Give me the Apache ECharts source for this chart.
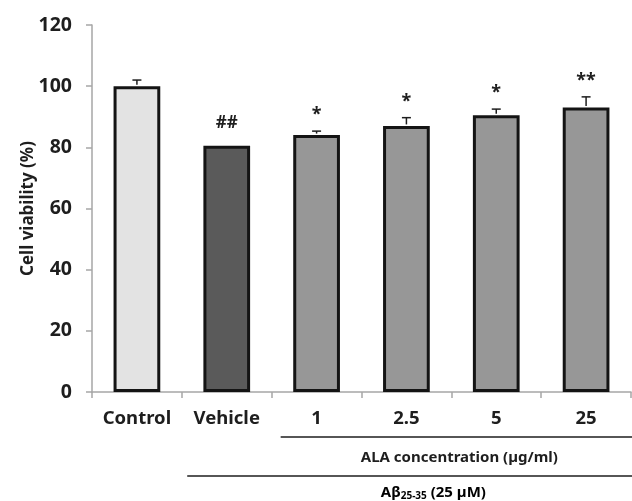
<!DOCTYPE html>
<html><head><meta charset="utf-8">
<script src="https://cdn.jsdelivr.net/npm/echarts@6/dist/echarts.min.js"></script>
<style>html,body{margin:0;padding:0;background:#fff}#c{width:632px;height:501px}</style>
</head><body><div id="c"></div>
<script>
const categories = ['Control', 'Vehicle', '1', '2.5', '5', '25'];
const viability = [100, 80.5, 84, 87, 90.5, 93];
const errors = [2, 0, 1.3, 2.7, 2, 3.5];
const marks = ['', '##', '*', '*', '*', '**'];
const barColors = ['#e3e3e3', '#5a5a5a', '#979797', '#979797', '#979797', '#979797'];
const yTicks = [0, 20, 40, 60, 80, 100, 120];
const FONT = '"Noto Sans", "Open Sans", sans-serif';

const chart = echarts.init(document.getElementById('c'), null, {renderer: 'canvas'});
const option = {
  animation: false,
  backgroundColor: '#fff',
  grid: {left: 92, right: 1, top: 25, bottom: 109, containLabel: false},
  xAxis: {
    type: 'category', data: categories,
    axisLine: {lineStyle: {color: '#a6a6a6', width: 1.5}},
    axisTick: {show: true, length: 6, lineStyle: {color: '#a6a6a6', width: 1.5}},
    axisLabel: {color: '#1e1e1e', fontFamily: FONT, fontWeight: 'bold', fontSize: 18.5, margin: 17}
  },
  yAxis: {
    type: 'value', min: yTicks[0], max: yTicks[yTicks.length - 1], interval: 20,
    name: 'Cell viability (%)', nameLocation: 'middle', nameGap: 55, nameRotate: 90,
    nameMoveOverlap: false,
    nameTextStyle: {color: '#1e1e1e', fontFamily: FONT, fontWeight: 'bold', fontSize: 17},
    axisLine: {show: true, lineStyle: {color: '#a6a6a6', width: 1.5}},
    axisTick: {show: true, length: 6, lineStyle: {color: '#a6a6a6', width: 1.5}},
    splitLine: {show: false},
    axisLabel: {color: '#1e1e1e', fontFamily: FONT, fontWeight: 'bold', fontSize: 19.5, margin: 20}
  },
  series: [
    {
      type: 'bar', barWidth: '52%',
      data: viability.map((v, i) => ({value: v, itemStyle: {color: barColors[i]}})),
      itemStyle: {borderColor: '#141414', borderWidth: 3}
    },
    {
      type: 'custom', z: 5,
      data: viability.map((v, i) => [i, v, errors[i]]),
      renderItem: function (params, api) {
        const x = api.value(0), v = api.value(1), e = api.value(2);
        const base = api.coord([x, v]);
        const top = api.coord([x, v + e]);
        const children = [];
        if (e > 0) {
          children.push({type: 'line', shape: {x1: base[0], y1: base[1] - 1.5, x2: top[0], y2: top[1]}, style: {stroke: '#1e1e1e', lineWidth: 1.5}});
          children.push({type: 'line', shape: {x1: top[0] - 4.5, y1: top[1], x2: top[0] + 4.5, y2: top[1]}, style: {stroke: '#1e1e1e', lineWidth: 1.5}});
        }
        const m = marks[params.dataIndex];
        if (m) {
          const isHash = m === '##';
          children.push({type: 'text', style: {text: m, x: top[0], y: top[1] - (isHash ? 23 : 16), align: 'center', verticalAlign: 'middle', fill: '#1e1e1e', font: 'bold ' + (isHash ? 17 : 18) + 'px ' + FONT}});
        }
        return {type: 'group', children: children};
      }
    }
  ]
};
chart.setOption(option);

function px(idx) { return chart.convertToPixel({xAxisIndex: 0}, categories[idx]); }
const band = px(1) - px(0);
const yBase = chart.convertToPixel({yAxisIndex: 0}, 0);
const line1Start = px(2) - band * 0.4;
const line2Start = px(1) - band * 0.44;
const lineEnd = px(5) + band * 0.5 + 1;
chart.setOption({
  graphic: [
    {type: 'line', shape: {x1: line1Start, y1: yBase + 45, x2: lineEnd, y2: yBase + 45}, style: {stroke: '#1e1e1e', lineWidth: 1.3}},
    {type: 'text', style: {text: 'ALA concentration (µg/ml)', x: (line1Start + lineEnd) / 2 + 3, y: yBase + 66, align: 'center', verticalAlign: 'middle', fill: '#1e1e1e', font: 'bold 15px ' + FONT}},
    {type: 'line', shape: {x1: line2Start, y1: yBase + 84, x2: lineEnd, y2: yBase + 84}, style: {stroke: '#1e1e1e', lineWidth: 1.3}},
    {type: 'text', style: {
      x: px(3) + band * 0.3, y: yBase + 101, align: 'center', verticalAlign: 'middle',
      text: '{a|Aβ}{s|25-35}{a| (25 µM)}',
      rich: {
        a: {fontFamily: FONT, fontWeight: 'bold', fontSize: 15, color: '#1e1e1e'},
        s: {fontFamily: FONT, fontWeight: 'bold', fontSize: 10, color: '#1e1e1e', verticalAlign: 'bottom', padding: [7, 0, 0, 0]}
      }
    }}
  ]
});
</script></body></html>
